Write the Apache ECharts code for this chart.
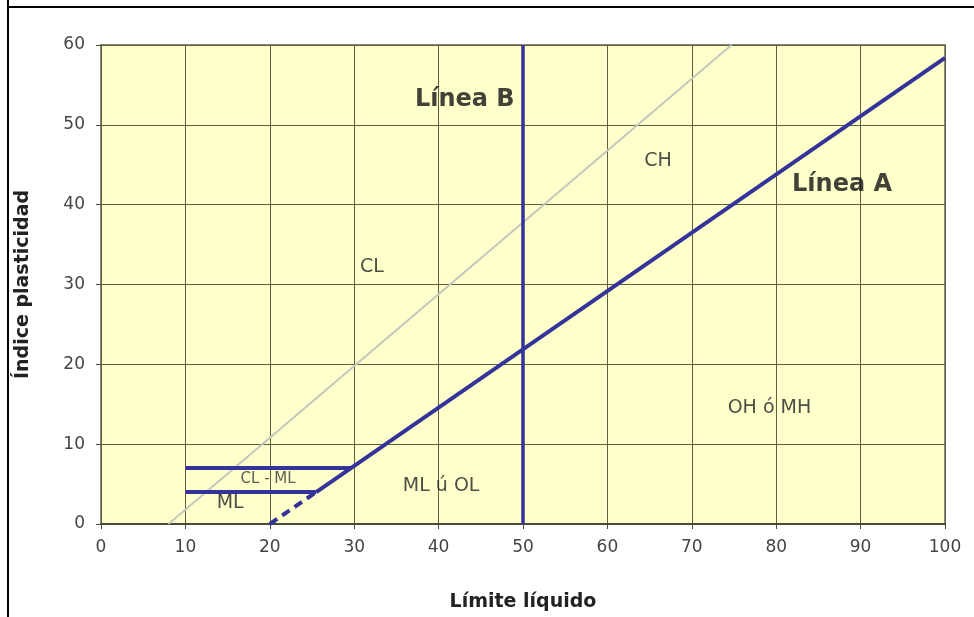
<!DOCTYPE html>
<html>
<head>
<meta charset="utf-8">
<script src="https://cdn.jsdelivr.net/npm/echarts@6/dist/echarts.min.js"></script>
<style>html,body{margin:0;padding:0;background:#fff;}#c{width:974px;height:617px;}</style>
</head>
<body>
<div id="c"></div>
<script>
// Data
var xTicks = [0,10,20,30,40,50,60,70,80,90,100];
var yTicks = [0,10,20,30,40,50,60];
var lineU = [[8,0],[74.7,60]];
var lineA = [[25.5,4],[100,58.4]];
var lineADashed = [[20,0],[25.5,4]];
var lineCLML = [[10,7],[29.6,7]];
var lineML = [[10,4],[25.5,4]];
var lineB = [[50,0],[50,60]];
var labelsBold = [[43.1,53.1,'Línea B'],[87.8,42.5,'Línea A']];
var labelsZone = [[66.0,45.4,'CH'],[32.1,32.2,'CL'],[79.2,14.5,'OH ó MH'],[40.3,4.7,'ML ú OL'],[15.3,2.6,'ML']];
var labelsSmall = [[19.8,5.6,'CL - ML']];

var FONT = 'DejaVu Sans, Liberation Sans, Arial, sans-serif';
var blue = '#333399';
function lineSeries(data, w, color, type, z){
  return {type:'line', data:data, showSymbol:false, symbol:'none', silent:true, z:z||3,
    lineStyle:{width:w, color:color, type:type||'solid', cap:'butt'}, animation:false};
}
function labelSeries(arr, size, weight, color){
  return {type:'scatter', symbolSize:0, silent:true, z:10, animation:false,
    data: arr.map(function(d){return {value:[d[0],d[1]], name:d[2]};}),
    label:{show:true, position:'inside', formatter:'{b}', fontFamily:FONT, fontSize:size, fontWeight:weight, color:color}};
}
var chart = echarts.init(document.getElementById('c'), null, {renderer:'canvas'});
chart.setOption({
  animation:false,
  backgroundColor:'#ffffff',
  grid:{left:101, right:29, top:45, bottom:91, show:true, backgroundColor:'#ffffcc', borderColor:'#8a8a80', borderWidth:2},
  xAxis:{type:'value', min:0, max:100, interval:10,
    name:'Límite líquido', nameLocation:'middle', nameGap:69,
    nameTextStyle:{fontFamily:FONT, fontSize:19, fontWeight:'bold', color:'#222'},
    axisLine:{show:true, onZero:false, lineStyle:{color:'#4a4a3a', width:2}},
    axisTick:{show:true, length:5, lineStyle:{color:'#4a4a3a'}},
    axisLabel:{margin:15, fontFamily:FONT, fontSize:17, color:'#444'},
    splitLine:{show:true, lineStyle:{color:'#5f5f40', width:1}}},
  yAxis:{type:'value', min:0, max:60, interval:10,
    name:'Índice plasticidad', nameLocation:'middle', nameGap:68, nameRotate:90,
    nameTextStyle:{fontFamily:FONT, fontSize:19, fontWeight:'bold', color:'#222'},
    axisLine:{show:true, lineStyle:{color:'#5f5f40', width:1}},
    axisTick:{show:true, length:5, lineStyle:{color:'#4a4a3a'}},
    axisLabel:{margin:16, fontFamily:FONT, fontSize:17, color:'#444'},
    splitLine:{show:true, lineStyle:{color:'#5f5f40', width:1}}},
  graphic:[
    {type:'line', shape:{x1:8, y1:0, x2:8, y2:617}, style:{stroke:'#000', lineWidth:2}, silent:true},
    {type:'line', shape:{x1:8, y1:7, x2:974, y2:7}, style:{stroke:'#000', lineWidth:2}, silent:true}
  ],
  series:[
    lineSeries(lineU, 2, '#c6c6bc', 'solid', 2),
    lineSeries(lineB, 3.5, blue, 'solid', 3),
    lineSeries(lineA, 4, blue, 'solid', 4),
    lineSeries(lineADashed, 4, blue, [9,6], 4),
    lineSeries(lineCLML, 4, blue, 'solid', 4),
    lineSeries(lineML, 4, blue, 'solid', 4),
    labelSeries(labelsBold, 24, 'bold', '#111'),
    labelSeries(labelsZone, 19, 'normal', '#222'),
    labelSeries(labelsSmall, 15, 'normal', '#333')
  ]
});
</script>
</body>
</html>
